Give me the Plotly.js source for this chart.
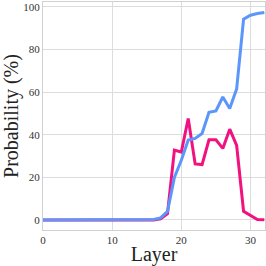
<!DOCTYPE html>
<html>
<head>
<meta charset="utf-8">
<script src="https://cdn.plot.ly/plotly-3.0.1.min.js"></script>
<style>html,body{margin:0;padding:0;background:#fff}#chart{width:266px;height:266px}</style>
</head>
<body>
<div id="chart"></div>
<script>
const layers = [0,1,2,3,4,5,6,7,8,9,10,11,12,13,14,15,16,17,18,19,20,21,22,23,24,25,26,27,28,29,30,31,32];
const blueValues = [0,0,0,0,0,0,0,0,0,0,0,0,0,0,0,0,0.2,1,4,20,28,37.5,38.3,40.6,50.5,51.2,57.7,52.3,61.5,94.2,96.1,96.9,97.4];
const pinkValues = [0,0,0,0,0,0,0,0,0,0,0,0,0,0,0,0,0,0.5,3,32.8,31.9,47.6,26.3,26,37.6,37.6,33.6,42.6,35,4.1,2,0.2,0.1];
const xTicks = [0,10,20,30];
const yTicks = [0,20,40,60,80,100];

const traces = [
  {x: layers, y: pinkValues, type: 'scatter', mode: 'lines', line: {color: '#f2127f', width: 3}, hoverinfo: 'skip'},
  {x: layers, y: blueValues, type: 'scatter', mode: 'lines', line: {color: '#5b97fa', width: 3}, hoverinfo: 'skip'}
];
const font = {family: '"Liberation Serif", "DejaVu Serif", serif', color: '#222'};
const layout = {
  width: 266, height: 266,
  margin: {l: 43, r: 1, t: 2, b: 36},
  paper_bgcolor: '#fff', plot_bgcolor: '#fff',
  showlegend: false,
  font: font,
  xaxis: {
    range: [0, 32.1], tickvals: xTicks, ticktext: xTicks.map(String),
    showgrid: true, gridcolor: '#dcdcdc', gridwidth: 1,
    showline: true, linecolor: '#d0d0d0', linewidth: 1, mirror: true,
    zeroline: false, ticks: '',
    tickfont: {family: font.family, size: 11, color: '#333'},
    title: {text: 'Layer', font: {family: font.family, size: 20, color: '#222'}, standoff: 4}
  },
  yaxis: {
    range: [-4.7, 102.3], tickvals: yTicks, ticktext: yTicks.map(String),
    showgrid: true, gridcolor: '#dcdcdc', gridwidth: 1,
    showline: true, linecolor: '#d0d0d0', linewidth: 1, mirror: true,
    zeroline: false, ticks: '',
    tickfont: {family: font.family, size: 11, color: '#333'},
    title: {text: 'Probability (%)', font: {family: font.family, size: 20, color: '#222'}, standoff: 4}
  }
};
Plotly.newPlot('chart', traces, layout, {staticPlot: true, displayModeBar: false});
</script>
</body>
</html>
